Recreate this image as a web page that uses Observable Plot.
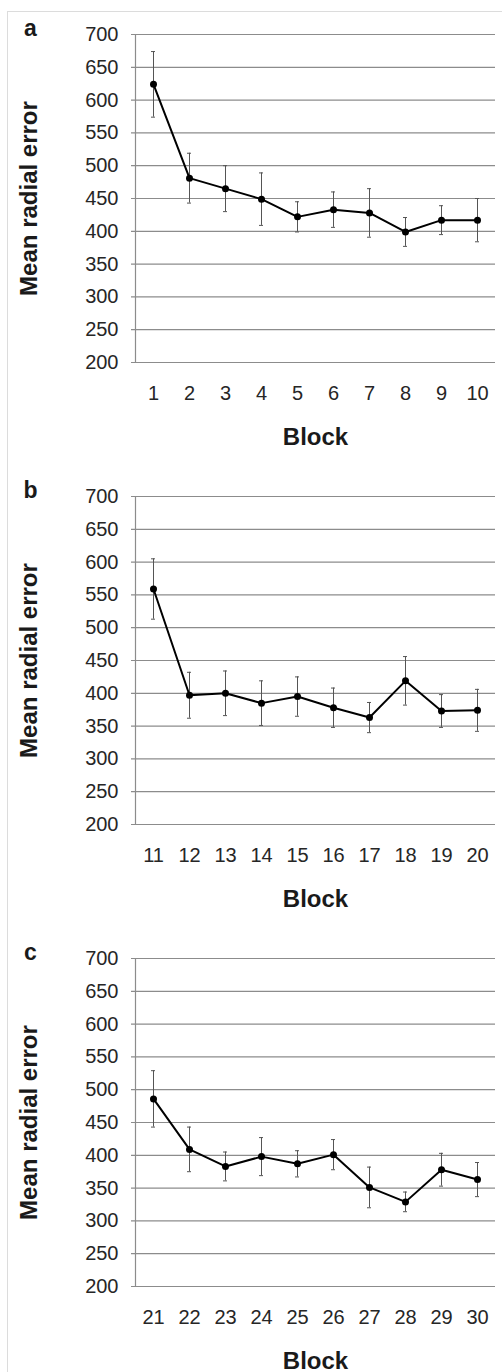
<!DOCTYPE html>
<html>
<head>
<meta charset="utf-8">
<script src="https://cdn.jsdelivr.net/npm/d3@7"></script>
<script src="https://cdn.jsdelivr.net/npm/@observablehq/plot@0.6"></script>
<style>
  html, body { margin: 0; padding: 0; background: #fff; overflow: hidden; }
  #fig { position: relative; width: 502px; height: 1372px; }
  #edge { position: absolute; left: 7px; top: 11px; right: -2px; bottom: -2px;
          border-top: 1px solid #dcdcdc; border-left: 1px solid #dcdcdc; }
  .panel { position: absolute; left: 0; }
  .panel svg { overflow: visible; }
</style>
</head>
<body>
<div id="fig"><div id="edge"></div></div>
<script>
// Mean radial error per block, with the half-length of each error bar
const blocksA = ["1", "2", "3", "4", "5", "6", "7", "8", "9", "10"];
const meansA  = [624, 481, 465, 449, 422, 433, 428, 399, 417, 417];
const errsA   = [50, 38, 35, 40, 23, 27, 37, 22, 22, 33];

const blocksB = ["11", "12", "13", "14", "15", "16", "17", "18", "19", "20"];
const meansB  = [559, 397, 400, 385, 395, 378, 363, 419, 373, 374];
const errsB   = [46, 35, 34, 34, 30, 30, 23, 37, 25, 32];

const blocksC = ["21", "22", "23", "24", "25", "26", "27", "28", "29", "30"];
const meansC  = [486, 409, 383, 398, 387, 401, 351, 329, 378, 363];
const errsC   = [43, 34, 22, 29, 20, 23, 31, 15, 25, 26];

const yTicks = [200, 250, 300, 350, 400, 450, 500, 550, 600, 650, 700];
const panelLetters = ["a", "b", "c"];
const xLabel = "Block";
const yLabel = "Mean radial error";

const font = "'Liberation Sans', Arial, Helvetica, sans-serif";
const gridColor = "#8c8c8c";
const textColor = "#262626";

function panel(letter, blocks, means, errs, height, marginBottom) {
  const rows = blocks.map((b, i) => ({block: b, mean: means[i], err: errs[i]}));
  return Plot.plot({
    width: 502,
    height,
    marginTop: 34,
    marginBottom,
    marginLeft: 135,
    marginRight: 7,
    style: {fontFamily: font, background: "transparent", overflow: "visible"},
    x: {type: "band", domain: blocks, paddingInner: 0, paddingOuter: 0},
    y: {domain: [200, 700]},
    marks: [
      // horizontal gridlines, with the short tick stub left of the axis
      Plot.ruleY(yTicks, {stroke: gridColor, strokeWidth: 1.2, insetLeft: -4}),
      Plot.frame({anchor: "left", stroke: gridColor, strokeWidth: 1.2}),
      Plot.axisY({ticks: yTicks, tickSize: 0, tickPadding: 17, fontSize: 20,
                  fill: textColor, label: null}),
      Plot.axisX({tickSize: 0, tickPadding: 23, fontSize: 20, fill: textColor, label: null}),
      // error bars with caps
      Plot.ruleX(rows, {x: "block", y1: d => d.mean - d.err, y2: d => d.mean + d.err,
                        stroke: "#555", strokeWidth: 1}),
      Plot.tickY(rows, {x: "block", y: d => d.mean + d.err, stroke: "#555",
                        strokeWidth: 1, insetLeft: 16, insetRight: 16}),
      Plot.tickY(rows, {x: "block", y: d => d.mean - d.err, stroke: "#555",
                        strokeWidth: 1, insetLeft: 16, insetRight: 16}),
      // mean series
      Plot.line(rows, {x: "block", y: "mean", stroke: "#000", strokeWidth: 2}),
      Plot.dot(rows, {x: "block", y: "mean", r: 3.5, fill: "#000"}),
      // labels
      Plot.text([xLabel], {text: d => d, frameAnchor: "bottom", dy: 82, lineAnchor: "bottom",
                           textAnchor: "middle", fontSize: 24, fontWeight: "bold", fill: "#1a1a1a"}),
      Plot.text([yLabel], {text: d => d, frameAnchor: "left", dx: -99, rotate: -90,
                           lineAnchor: "bottom", textAnchor: "middle", fontSize: 24,
                           fontWeight: "bold", fill: "#1a1a1a"}),
      Plot.text([letter], {text: d => d, frameAnchor: "top-left", dx: -105, dy: 1,
                           lineAnchor: "bottom", textAnchor: "middle", fontSize: 23,
                           fontWeight: "bold", fill: "#1a1a1a"})
    ]
  });
}

const fig = document.getElementById("fig");
const specs = [
  {top: 0,     letter: panelLetters[0], blocks: blocksA, means: meansA, errs: errsA, h: 462, mb: 100},
  {top: 461.5, letter: panelLetters[1], blocks: blocksB, means: meansB, errs: errsB, h: 462, mb: 100},
  {top: 924.3, letter: panelLetters[2], blocks: blocksC, means: meansC, errs: errsC, h: 448, mb: 86}
];
for (const s of specs) {
  const div = document.createElement("div");
  div.className = "panel";
  div.style.top = s.top + "px";
  div.appendChild(panel(s.letter, s.blocks, s.means, s.errs, s.h, s.mb));
  fig.appendChild(div);
}
</script>
</body>
</html>
